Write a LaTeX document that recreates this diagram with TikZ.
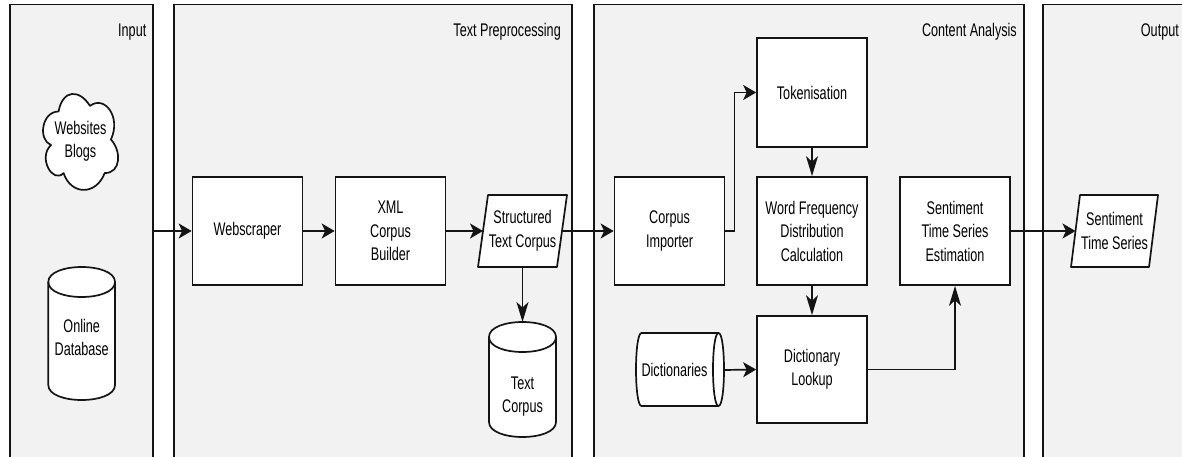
\documentclass[tikz,border=0pt]{standalone}
\usepackage{fontspec}
\setmainfont{Liberation Sans}[FakeStretch=0.69]
\usetikzlibrary{arrows.meta,calc}
\pgfdeclarelayer{panels}
\pgfdeclarelayer{shapes}
\pgfsetlayers{panels,shapes,main}
\definecolor{lanefill}{HTML}{F2F2F2}
\definecolor{ink}{HTML}{141414}

\begin{document}
\begin{tikzpicture}[x=1pt,y=-1pt,
  font=\fontsize{18.3}{23.5}\selectfont,
  lane/.style={draw=ink, line width=1.6pt, fill=lanefill, anchor=north west,
    inner sep=0pt, outer sep=0pt, minimum height=470pt},
  lanetitle/.style={anchor=base east, inner sep=0pt},
  procbox/.style={draw=ink, line width=1.7pt, fill=white, align=center,
    minimum width=110pt, minimum height=108pt, inner sep=0pt},
  txt/.style={align=center, inner sep=0pt, outer sep=0pt},
  outline/.style={draw=ink, line width=1.7pt, fill=white, line join=round},
  flow/.style={draw=ink, line width=1.7pt, -{Stealth[length=13pt,width=15pt,inset=3.5pt]}},
  vflow/.style={draw=ink, line width=1.7pt, -{Stealth[length=20pt,width=12pt,inset=5.5pt]}},
]
\useasboundingbox (0,0) rectangle (1182,457);

% swimlanes
\begin{pgfonlayer}{panels}
  \fill[white] (0,0) rectangle (1182,457);
  \node[lane, minimum width=143pt] (inlane)  at (10,4.5)   {};
  \node[lane, minimum width=398pt] (prelane) at (174,4.5)  {};
  \node[lane, minimum width=430pt] (analane) at (594,4.5)  {};
  \node[lane, minimum width=160pt] (outlane) at (1043,4.5) {};
\end{pgfonlayer}

\node[lanetitle] (intitle)  at (146.5,36.5) {Input};
\node[lanetitle] (pretitle) at (561,36.5)   {Text Preprocessing};
\node[lanetitle] (anatitle) at (1017,36.5)  {Content Analysis};
\node[lanetitle] (outtitle) at (1179,36.5)  {Output};

% input sources
\node[txt] (web) at (80.5,141.5) {Websites\\Blogs};
\node[txt] (odb) at (81.7,337.5) {Online\\Database};

% text preprocessing
\node[procbox] (scraper) at (247.5,231) {Webscraper};
\node[procbox] (xml)     at (390.5,231) {XML\\Corpus\\Builder};
\node[txt, minimum width=79pt, minimum height=72pt] (stc) at (522.5,231) {Structured\\Text Corpus};
\node[txt, minimum height=149pt] (tc) at (522.5,396.5) {Text\\Corpus};

% content analysis
\node[procbox] (ci)  at (669.5,231) {Corpus\\Importer};
\node[procbox, minimum height=109pt] (tok) at (812,92.5) {Tokenisation};
\node[procbox] (wfd) at (812,231) {Word Frequency\\Distribution\\Calculation};
\node[procbox, minimum height=107pt] (dl)  at (812,369.5) {Dictionary\\Lookup};
\node[txt, minimum width=99pt] (dict) at (674.5,370) {Dictionaries};
\node[procbox] (ste) at (955,231) {Sentiment\\Time Series\\Estimation};

% output
\node[txt, minimum width=78pt, minimum height=72pt] (sts) at (1114.5,231) {Sentiment\\Time Series};

% outlines of the non-rectangular shapes
\begin{pgfonlayer}{shapes}
  % cloud
  \path[outline] (58.55,111.5) .. controls (41.79,111.5) and (37.6,139.5) .. (51.01,145.1)
    .. controls (37.6,157.42) and (52.68,184.3) .. (63.58,173.1)
    .. controls (71.12,195.5) and (96.26,195.5) .. (104.64,173.1)
    .. controls (121.4,173.1) and (121.4,150.7) .. (110.93,139.5)
    .. controls (121.4,117.1) and (104.64,94.7) .. (89.98,105.9)
    .. controls (79.5,89.1) and (62.74,89.1) .. (58.55,111.5) -- cycle;
  % online database cylinder
  \path[outline] (48.3,282) .. controls (48.3,262) and (115,262) .. (115,282)
    -- (115,385) .. controls (115,405) and (48.3,405) .. (48.3,385) -- cycle;
  \draw[outline, fill=none] (48.3,282) .. controls (48.3,302) and (115,302) .. (115,282);
  % text corpus cylinder
  \path[outline] (489,337) .. controls (489,317) and (556,317) .. (556,337)
    -- (556,422) .. controls (556,442) and (489,442) .. (489,422) -- cycle;
  \draw[outline, fill=none] (489,337) .. controls (489,357) and (556,357) .. (556,337);
  % structured text corpus
  \path[outline] (488,195) -- (567,195) -- (557,267) -- (478,267) -- cycle;
  % dictionaries (horizontal cylinder)
  \path[outline] (641.5,333) -- (718.5,333) .. controls (725.83,333) and (725.83,406) .. (718.5,406)
    -- (641.5,406) .. controls (634.17,406) and (634.17,333) .. (641.5,333) -- cycle;
  \draw[outline, fill=none] (718.5,333) .. controls (711.17,333) and (711.17,406) .. (718.5,406);
  % sentiment time series
  \path[outline] (1080,195) -- (1158,195) -- (1149,267) -- (1071,267) -- cycle;
\end{pgfonlayer}

% connectors
\draw[flow] (inlane.east |- scraper.west) -- (scraper.west);
\draw[flow] (scraper.east) -- (xml.west);
\draw[flow] (xml.east) -- (stc.west);
\draw[flow] (stc.east) -- (ci.west);
\draw[vflow] (stc.south) -- (tc.north);
\draw[flow] (ci.east) -- ++(9,0) |- (tok.west);
\draw[vflow] (tok.south) -- (wfd.north);
\draw[vflow] (wfd.south) -- (dl.north);
\draw[flow] (dict.east) -- (dl.west);
\draw[vflow] (dl.east) -| (ste.south);
\draw[flow] (ste.east) -- (sts.west);
\end{tikzpicture}
\end{document}
